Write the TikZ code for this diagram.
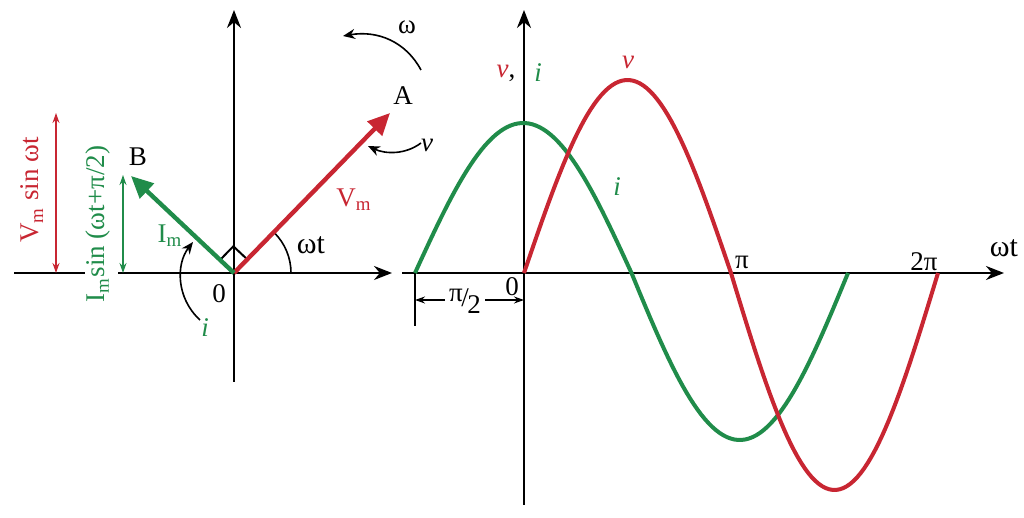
\documentclass[tikz,border=0pt]{standalone}
\usepackage{fontspec}
\setmainfont{Liberation Serif}
\usetikzlibrary{arrows.meta,calc}
\definecolor{vred}{RGB}{200,38,50}
\definecolor{igreen}{RGB}{32,140,74}
\begin{document}
\begin{tikzpicture}[x=0.5pt,y=-0.5pt]
\tikzstyle{axis coordinate} = []
\tikzstyle{axis edge} = [draw, color=black, line width=1pt, -{Stealth[length=9pt,width=7pt]}]
\tikzstyle{plain edge} = [draw, color=black, line width=1pt]
\tikzstyle{red phasor} = [draw, color=vred, line width=2.2pt, -{Triangle[length=11pt,width=10pt]}]
\tikzstyle{green phasor} = [draw, color=igreen, line width=2.2pt, -{Triangle[length=11pt,width=10pt]}]
\tikzstyle{turn arrow} = [draw, color=black, line width=0.8pt, -{Stealth[length=6pt,width=5pt]}]
\tikzstyle{red height} = [draw, color=vred, line width=0.6pt, {Stealth[length=5pt,width=3.5pt]}-{Stealth[length=5pt,width=3.5pt]}]
\tikzstyle{green height} = [draw, color=igreen, line width=0.6pt, {Stealth[length=5pt,width=3.5pt]}-{Stealth[length=5pt,width=3.5pt]}]
\tikzstyle{dim edge} = [draw, color=black, line width=0.6pt, {Stealth[length=5pt,width=3.5pt]}-{Stealth[length=5pt,width=3.5pt]}]
\tikzstyle{red curve} = [draw, color=vred, line width=2pt]
\tikzstyle{green curve} = [draw, color=igreen, line width=2pt]
\tikzstyle{phaselabel} = [font=\fontsize{13.5}{16}\selectfont, inner sep=1pt]
\tikzstyle{big phaselabel} = [phaselabel, font=\fontsize{15}{17}\selectfont]
\tikzstyle{red phaselabel} = [phaselabel, text=vred]
\tikzstyle{green phaselabel} = [phaselabel, text=igreen]
\useasboundingbox (0,0) rectangle (1024,518);
% phasor diagram
\coordinate[axis coordinate] (c_1) at (234,273);
\coordinate[axis coordinate] (c_2) at (234,10);
\coordinate[axis coordinate] (c_3) at (234,382);
\coordinate[axis coordinate] (c_4) at (14,273);
\coordinate[axis coordinate] (c_5) at (85,273);
\coordinate[axis coordinate] (c_6) at (118,273);
\coordinate[axis coordinate] (c_7) at (392,273);
\coordinate (c_8) at (390,113);
\coordinate (c_9) at (131,176);
\coordinate (c_10) at ($(c_1)!0.085!(c_8)$);
\coordinate (c_11) at ($(c_1)!0.135!(c_9)$);
\coordinate (c_12) at ($(c_10)+(c_11)-(c_1)$);
\coordinate (c_13) at (421,70);
\coordinate (c_14) at (343,36);
\coordinate (c_15) at (421,143);
\coordinate (c_16) at (368,146);
\coordinate (c_17) at (200,320);
\coordinate (c_18) at (193,242);
\coordinate (c_19) at (56,113);
\coordinate (c_20) at (56,273);
\coordinate (c_21) at (123,175);
\coordinate (c_22) at (123,273);
\path[plain edge] (c_1) -- (c_3);
\path[axis edge] (c_1) -- (c_2);
\path[plain edge] (c_4) -- (c_5);
\path[axis edge] (c_6) -- (c_7);
\path[plain edge] (c_10) -- (c_12) -- (c_11);
\path[plain edge, line width=0.8pt] ($(c_1)+(57,0)$) arc[start angle=0, end angle=-45, radius=57];
\path[red phasor] (c_1) -- (c_8);
\path[green phasor] (c_1) -- (c_9);
\path[turn arrow] (c_13) .. controls (406,42) and (378,30) .. (c_14);
\path[turn arrow] (c_15) .. controls (405,155) and (385,154) .. (c_16);
\path[turn arrow] (c_17) .. controls (176,298) and (176,264) .. (c_18);
\path[red height] (c_19) -- (c_20);
\path[green height] (c_21) -- (c_22);
\node[phaselabel] (n_A) at (403,96) {A};
\node[phaselabel] (n_B) at (138,157) {B};
\node[phaselabel] (n_w) at (407,27) {ω};
\node[phaselabel] (n_v) at (427,145) {\textit{ν}};
\node[big phaselabel] (n_wt) at (311,245) {ωt};
\node[phaselabel] (n_0) at (219,294) {0};
\node[red phaselabel] (n_Vm) at (354,200) {V\textsubscript{m}};
\node[green phaselabel] (n_Im) at (170,236) {I\textsubscript{m}};
\node[green phaselabel] (n_i) at (205,328) {\textit{i}};
\node[red phaselabel, rotate=90] (n_Vsin) at (32,190) {V\textsubscript{m} sin ωt};
\node[green phaselabel, rotate=90] (n_Isin) at (98,224) {I\textsubscript{m}sin (ωt+π/2)};
% waveforms
\coordinate[axis coordinate] (c_23) at (524,273);
\coordinate[axis coordinate] (c_24) at (524,10);
\coordinate[axis coordinate] (c_25) at (524,505);
\coordinate[axis coordinate] (c_26) at (402,273);
\coordinate[axis coordinate] (c_27) at (1004,273);
\coordinate (c_28) at (415,273);
\coordinate (c_29) at (415,326);
\coordinate (c_30) at (415,300);
\coordinate (c_31) at (524,300);
\path[axis edge] (c_25) -- (c_24);
\path[axis edge] (c_26) -- (c_27);
\path[plain edge, line width=0.8pt] (c_28) -- (c_29);
\path[green curve] plot[domain=-90:90, samples=60] ({415+1.2028*(\x+90)},{273-150*cos(\x)})
  -- plot[domain=90:270, samples=60] ({415+1.2028*(\x+90)},{273-167*cos(\x)});
\path[red curve] plot[domain=0:180, samples=60] ({524+1.15*\x},{273-193*sin(\x)})
  -- plot[domain=180:360, samples=60] ({524+1.15*\x},{273-217*sin(\x)});
\path[dim edge] (c_30) -- (c_31);
\node[phaselabel, fill=white, inner sep=2pt] (n_half) at (465,301) {\raisebox{0.45ex}{π}\kern-0.05em/\kern-0.05em\raisebox{-0.5ex}{2}};
\node[red phaselabel] (n_vax) at (506,73) {\textit{ν}\textcolor{black}{,}};
\node[green phaselabel] (n_iax) at (538,73) {\textit{i}};
\node[red phaselabel] (n_vpk) at (628,62) {\textit{ν}};
\node[green phaselabel] (n_ipk) at (617,187) {\textit{i}};
\node[phaselabel] (n_pi) at (742,262) {π};
\node[phaselabel] (n_2pi) at (924,262) {2π};
\node[big phaselabel] (n_wt2) at (1004,248) {ωt};
\node[phaselabel] (n_02) at (512,287) {0};
\end{tikzpicture}
\end{document}
